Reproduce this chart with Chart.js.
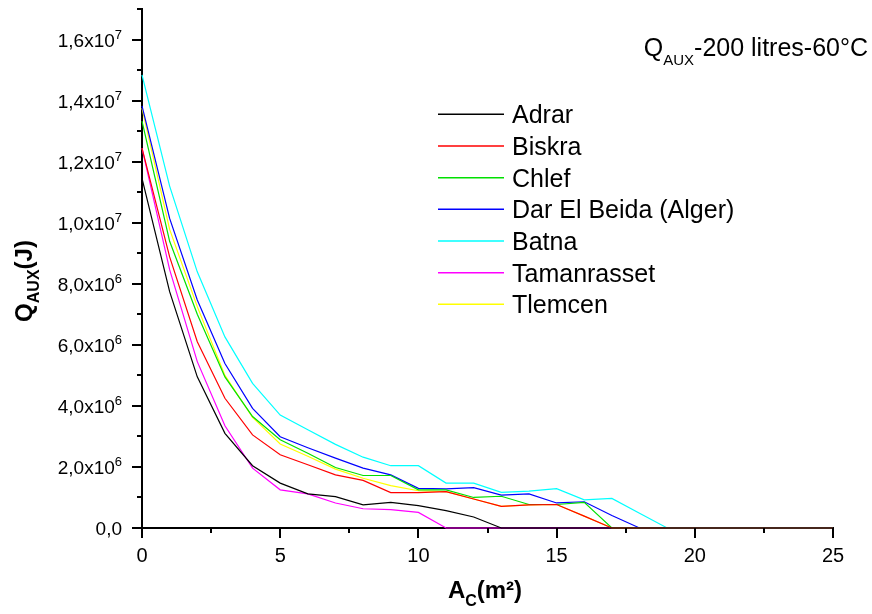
<!DOCTYPE html>
<html lang="fr">
<head>
<meta charset="UTF-8" />
<title>QAUX - 200 litres - 60°C</title>
<script src="https://cdn.jsdelivr.net/npm/chart.js"></script>
<style>
  html, body { margin: 0; padding: 0; background: #fff; }
  #wrap { width: 872px; height: 614px; }
</style>
</head>
<body>
<div id="wrap"><canvas id="auxChart" width="872" height="614"></canvas></div>
<script>
// surface de capteurs A_c (m²)
const areas = [0, 1, 2, 3, 4, 5, 6, 7, 8, 9, 10, 11, 12, 13, 14, 15, 16, 17, 18, 19, 20, 21, 22, 23, 24, 25];

// energie d'appoint Q_AUX, en 10^6 J
const adrar       = [11.45, 7.74, 4.95, 3.10, 2.04, 1.47, 1.12, 1.03, 0.76, 0.84, 0.73, 0.57, 0.36, 0, 0, 0, 0, 0, 0, 0, 0, 0, 0, 0, 0, 0];
const biskra      = [12.44, 8.88, 6.10, 4.25, 3.05, 2.40, 2.07, 1.74, 1.56, 1.16, 1.16, 1.19, 0.95, 0.71, 0.76, 0.77, 0.39, 0, 0, 0, 0, 0, 0, 0, 0, 0];
const chlef       = [13.33, 9.39, 7.00, 4.95, 3.65, 2.89, 2.45, 1.98, 1.72, 1.72, 1.25, 1.25, 1.00, 1.04, 0.77, 0.77, 0.84, 0, 0, 0, 0, 0, 0, 0, 0, 0];
const darElBeida  = [13.83, 10.14, 7.47, 5.39, 3.92, 2.99, 2.63, 2.29, 1.96, 1.74, 1.30, 1.28, 1.32, 1.08, 1.12, 0.82, 0.86, 0.41, 0, 0, 0, 0, 0, 0, 0, 0];
const batna       = [14.84, 11.20, 8.39, 6.26, 4.74, 3.70, 3.22, 2.74, 2.32, 2.04, 2.04, 1.47, 1.47, 1.17, 1.21, 1.29, 0.92, 0.97, 0.48, 0, 0, 0, 0, 0, 0, 0];
const tamanrasset = [12.44, 8.46, 5.45, 3.35, 1.96, 1.25, 1.12, 0.82, 0.63, 0.60, 0.51, 0, 0, 0, 0, 0, 0, 0, 0, 0, 0, 0, 0, 0, 0, 0];
const tlemcen     = [13.75, 9.78, 7.25, 5.00, 3.62, 2.75, 2.35, 1.93, 1.63, 1.39, 1.22, 1.19, 0.95, 0.71, 0.76, 0.77, 0.39, 0, 0, 0, 0, 0, 0, 0, 0, 0];

const seriesNames = ["Adrar", "Biskra", "Chlef", "Dar El Beida (Alger)", "Batna", "Tamanrasset", "Tlemcen"];
const seriesColors = ["#000000", "#ff0000", "#00e000", "#0000ff", "#00ffff", "#ff00ff", "#ffff00"];

// graduations
const xMajorTicks = [0, 5, 10, 15, 20, 25];
const xMinorTicks = [2.5, 7.5, 12.5, 17.5, 22.5];
const xTickLabels = ["0", "5", "10", "15", "20", "25"];
const yMajorTicks = [0, 2e6, 4e6, 6e6, 8e6, 10e6, 12e6, 14e6, 16e6];
const yMinorTicks = [1e6, 3e6, 5e6, 7e6, 9e6, 11e6, 13e6, 15e6, 17e6];
const yTickBase = ["0,0", "2,0x10", "4,0x10", "6,0x10", "8,0x10", "1,0x10", "1,2x10", "1,4x10", "1,6x10"];
const yTickExp  = ["", "6", "6", "6", "6", "7", "7", "7", "7"];

const FONT = '"Liberation Sans", Arial, sans-serif';

const allSeries = [adrar, biskra, chlef, darElBeida, batna, tamanrasset, tlemcen];

// texte avec indices / exposants : parts = [{t, font, dy}]
function drawRich(ctx, parts, x, y, align) {
  let total = 0;
  parts.forEach(p => { ctx.font = p.font; p.w = ctx.measureText(p.t).width; total += p.w; });
  let cx = align === "right" ? x - total : align === "center" ? x - total / 2 : x;
  ctx.textAlign = "left";
  ctx.textBaseline = "alphabetic";
  parts.forEach(p => {
    ctx.font = p.font;
    ctx.fillText(p.t, cx, y + (p.dy || 0));
    cx += p.w;
  });
}

const decorPlugin = {
  id: "decor",
  afterDraw(chart) {
    const { ctx, chartArea } = chart;
    const xs = chart.scales.x, ys = chart.scales.y;
    ctx.save();
    ctx.strokeStyle = "#000";
    ctx.fillStyle = "#000";
    ctx.lineWidth = 2;

    // traits de graduation
    ctx.beginPath();
    xMajorTicks.forEach(v => {
      const px = Math.round(xs.getPixelForValue(v));
      ctx.moveTo(px, chartArea.bottom); ctx.lineTo(px, chartArea.bottom + 10);
    });
    xMinorTicks.forEach(v => {
      const px = Math.round(xs.getPixelForValue(v));
      ctx.moveTo(px, chartArea.bottom); ctx.lineTo(px, chartArea.bottom + 5);
    });
    yMajorTicks.forEach(v => {
      const py = Math.round(ys.getPixelForValue(v));
      ctx.moveTo(chartArea.left, py); ctx.lineTo(chartArea.left - 10, py);
    });
    yMinorTicks.forEach(v => {
      const py = Math.round(ys.getPixelForValue(v));
      ctx.moveTo(chartArea.left, py); ctx.lineTo(chartArea.left - 5, py);
    });
    ctx.stroke();

    // etiquettes axe x
    ctx.font = "20px " + FONT;
    ctx.textAlign = "center";
    ctx.textBaseline = "alphabetic";
    xMajorTicks.forEach((v, i) => {
      ctx.fillText(xTickLabels[i], xs.getPixelForValue(v), 562);
    });

    // etiquettes axe y
    yMajorTicks.forEach((v, i) => {
      const py = ys.getPixelForValue(v);
      const parts = [{ t: yTickBase[i], font: "19px " + FONT }];
      if (yTickExp[i]) parts.push({ t: yTickExp[i], font: "13px " + FONT, dy: -8 });
      drawRich(ctx, parts, 122, py + 7, "right");
    });

    // titres des axes
    drawRich(ctx, [
      { t: "A", font: "bold 24px " + FONT },
      { t: "C", font: "bold 16px " + FONT, dy: 8 },
      { t: "(m²)", font: "bold 24px " + FONT }
    ], 485, 598, "center");

    ctx.save();
    ctx.translate(32, 281);
    ctx.rotate(-Math.PI / 2);
    drawRich(ctx, [
      { t: "Q", font: "bold 24px " + FONT },
      { t: "AUX", font: "bold 16px " + FONT, dy: 7 },
      { t: "(J)", font: "bold 24px " + FONT }
    ], 0, 0, "center");
    ctx.restore();

    // titre
    drawRich(ctx, [
      { t: "Q", font: "25px " + FONT },
      { t: "AUX", font: "15px " + FONT, dy: 9 },
      { t: "-200 litres-60°C", font: "25px " + FONT }
    ], 868, 56, "right");

    // legende
    chart.data.datasets.forEach((ds, i) => {
      const ly = 114.3 + i * 31.67;
      ctx.strokeStyle = ds.borderColor;
      ctx.lineWidth = 1.5;
      ctx.beginPath();
      ctx.moveTo(438, ly); ctx.lineTo(504, ly);
      ctx.stroke();
      ctx.fillStyle = "#000";
      ctx.font = "25px " + FONT;
      ctx.textAlign = "left";
      ctx.fillText(ds.label, 512, ly + 9);
    });
    ctx.restore();
  }
};

const datasets = allSeries.map((vals, i) => ({
  label: seriesNames[i],
  data: vals.map((v, j) => ({ x: areas[j], y: v * 1e6 })),
  borderColor: seriesColors[i],
  backgroundColor: seriesColors[i],
  borderWidth: 1.2,
  pointRadius: 0,
  tension: 0,
  clip: false
}));

const ctx = document.getElementById("auxChart").getContext("2d");
new Chart(ctx, {
  type: "line",
  data: { datasets: datasets },
  options: {
    responsive: false,
    animation: false,
    devicePixelRatio: 1,
    layout: { padding: { top: 9, right: 39, left: 0, bottom: 0 } },
    plugins: {
      legend: { display: false },
      tooltip: { enabled: false },
      title: { display: false }
    },
    scales: {
      x: {
        type: "linear",
        min: 0,
        max: 25,
        grid: { display: false },
        ticks: { display: false },
        border: { display: true, color: "#000", width: 2 },
        afterFit: (scale) => { scale.height = 86; }
      },
      y: {
        type: "linear",
        min: 0,
        max: 17e6,
        grid: { display: false },
        ticks: { display: false },
        border: { display: true, color: "#000", width: 2 },
        afterFit: (scale) => { scale.width = 142; }
      }
    }
  },
  plugins: [decorPlugin]
});
</script>
</body>
</html>
